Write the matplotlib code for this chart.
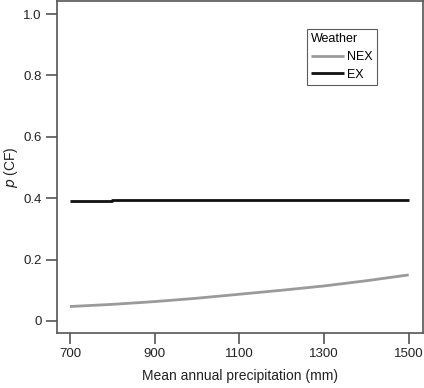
import matplotlib
matplotlib.use("Agg")
import matplotlib.pyplot as plt
import numpy as np

# precipitation (mm) and predicted p(CF)
precip = [700, 800, 900, 1000, 1100, 1200, 1300, 1400, 1500]
nex = [0.047, 0.054, 0.063, 0.074, 0.087, 0.100, 0.114, 0.131, 0.150]
ex_precip = [700, 800, 800, 1500]
ex = [0.391, 0.391, 0.395, 0.395]

xticks = [700, 900, 1100, 1300, 1500]
yticks = [0, 0.2, 0.4, 0.6, 0.8, 1.0]
ylabels = ['0', '0.2', '0.4', '0.6', '0.8', '1.0']

plt.rcParams['font.family'] = ['Liberation Sans', 'DejaVu Sans']

fig = plt.figure(figsize=(4.24, 3.88), dpi=100)
ax = fig.add_axes([0.134, 0.142, 0.863, 0.855])

ax.plot(precip, nex, color='#9a9a9a', lw=2.0, label='NEX', solid_capstyle='butt')
ax.plot(ex_precip, ex, color='#111111', lw=2.0, label='EX', solid_capstyle='butt')

ax.set_xlim(669, 1533)
ax.set_ylim(-0.039, 1.042)
ax.set_xticks(xticks)
ax.set_yticks(yticks)
ax.set_yticklabels(ylabels)

for s in ax.spines.values():
    s.set_color('#555555')
    s.set_linewidth(1.2)
ax.tick_params(direction='out', length=8, width=1.2, color='#555555',
               labelsize=9.5, labelcolor='#222222', pad=3)

ax.set_xlabel('Mean annual precipitation (mm)', fontsize=10, color='#222222', labelpad=6)
ax.set_ylabel('$p$ (CF)', fontsize=10, color='#222222', labelpad=2)

leg = ax.legend(title='Weather', loc='upper left', bbox_to_anchor=(0.683, 0.916),
                borderaxespad=0,
                fontsize=9, title_fontsize=9, frameon=True, fancybox=False,
                edgecolor='#333333', handlelength=2.6, handletextpad=0.3,
                borderpad=0.35, labelspacing=0.45, alignment='left')
leg.get_frame().set_linewidth(0.8)

fig.savefig('out.png', dpi=100)
